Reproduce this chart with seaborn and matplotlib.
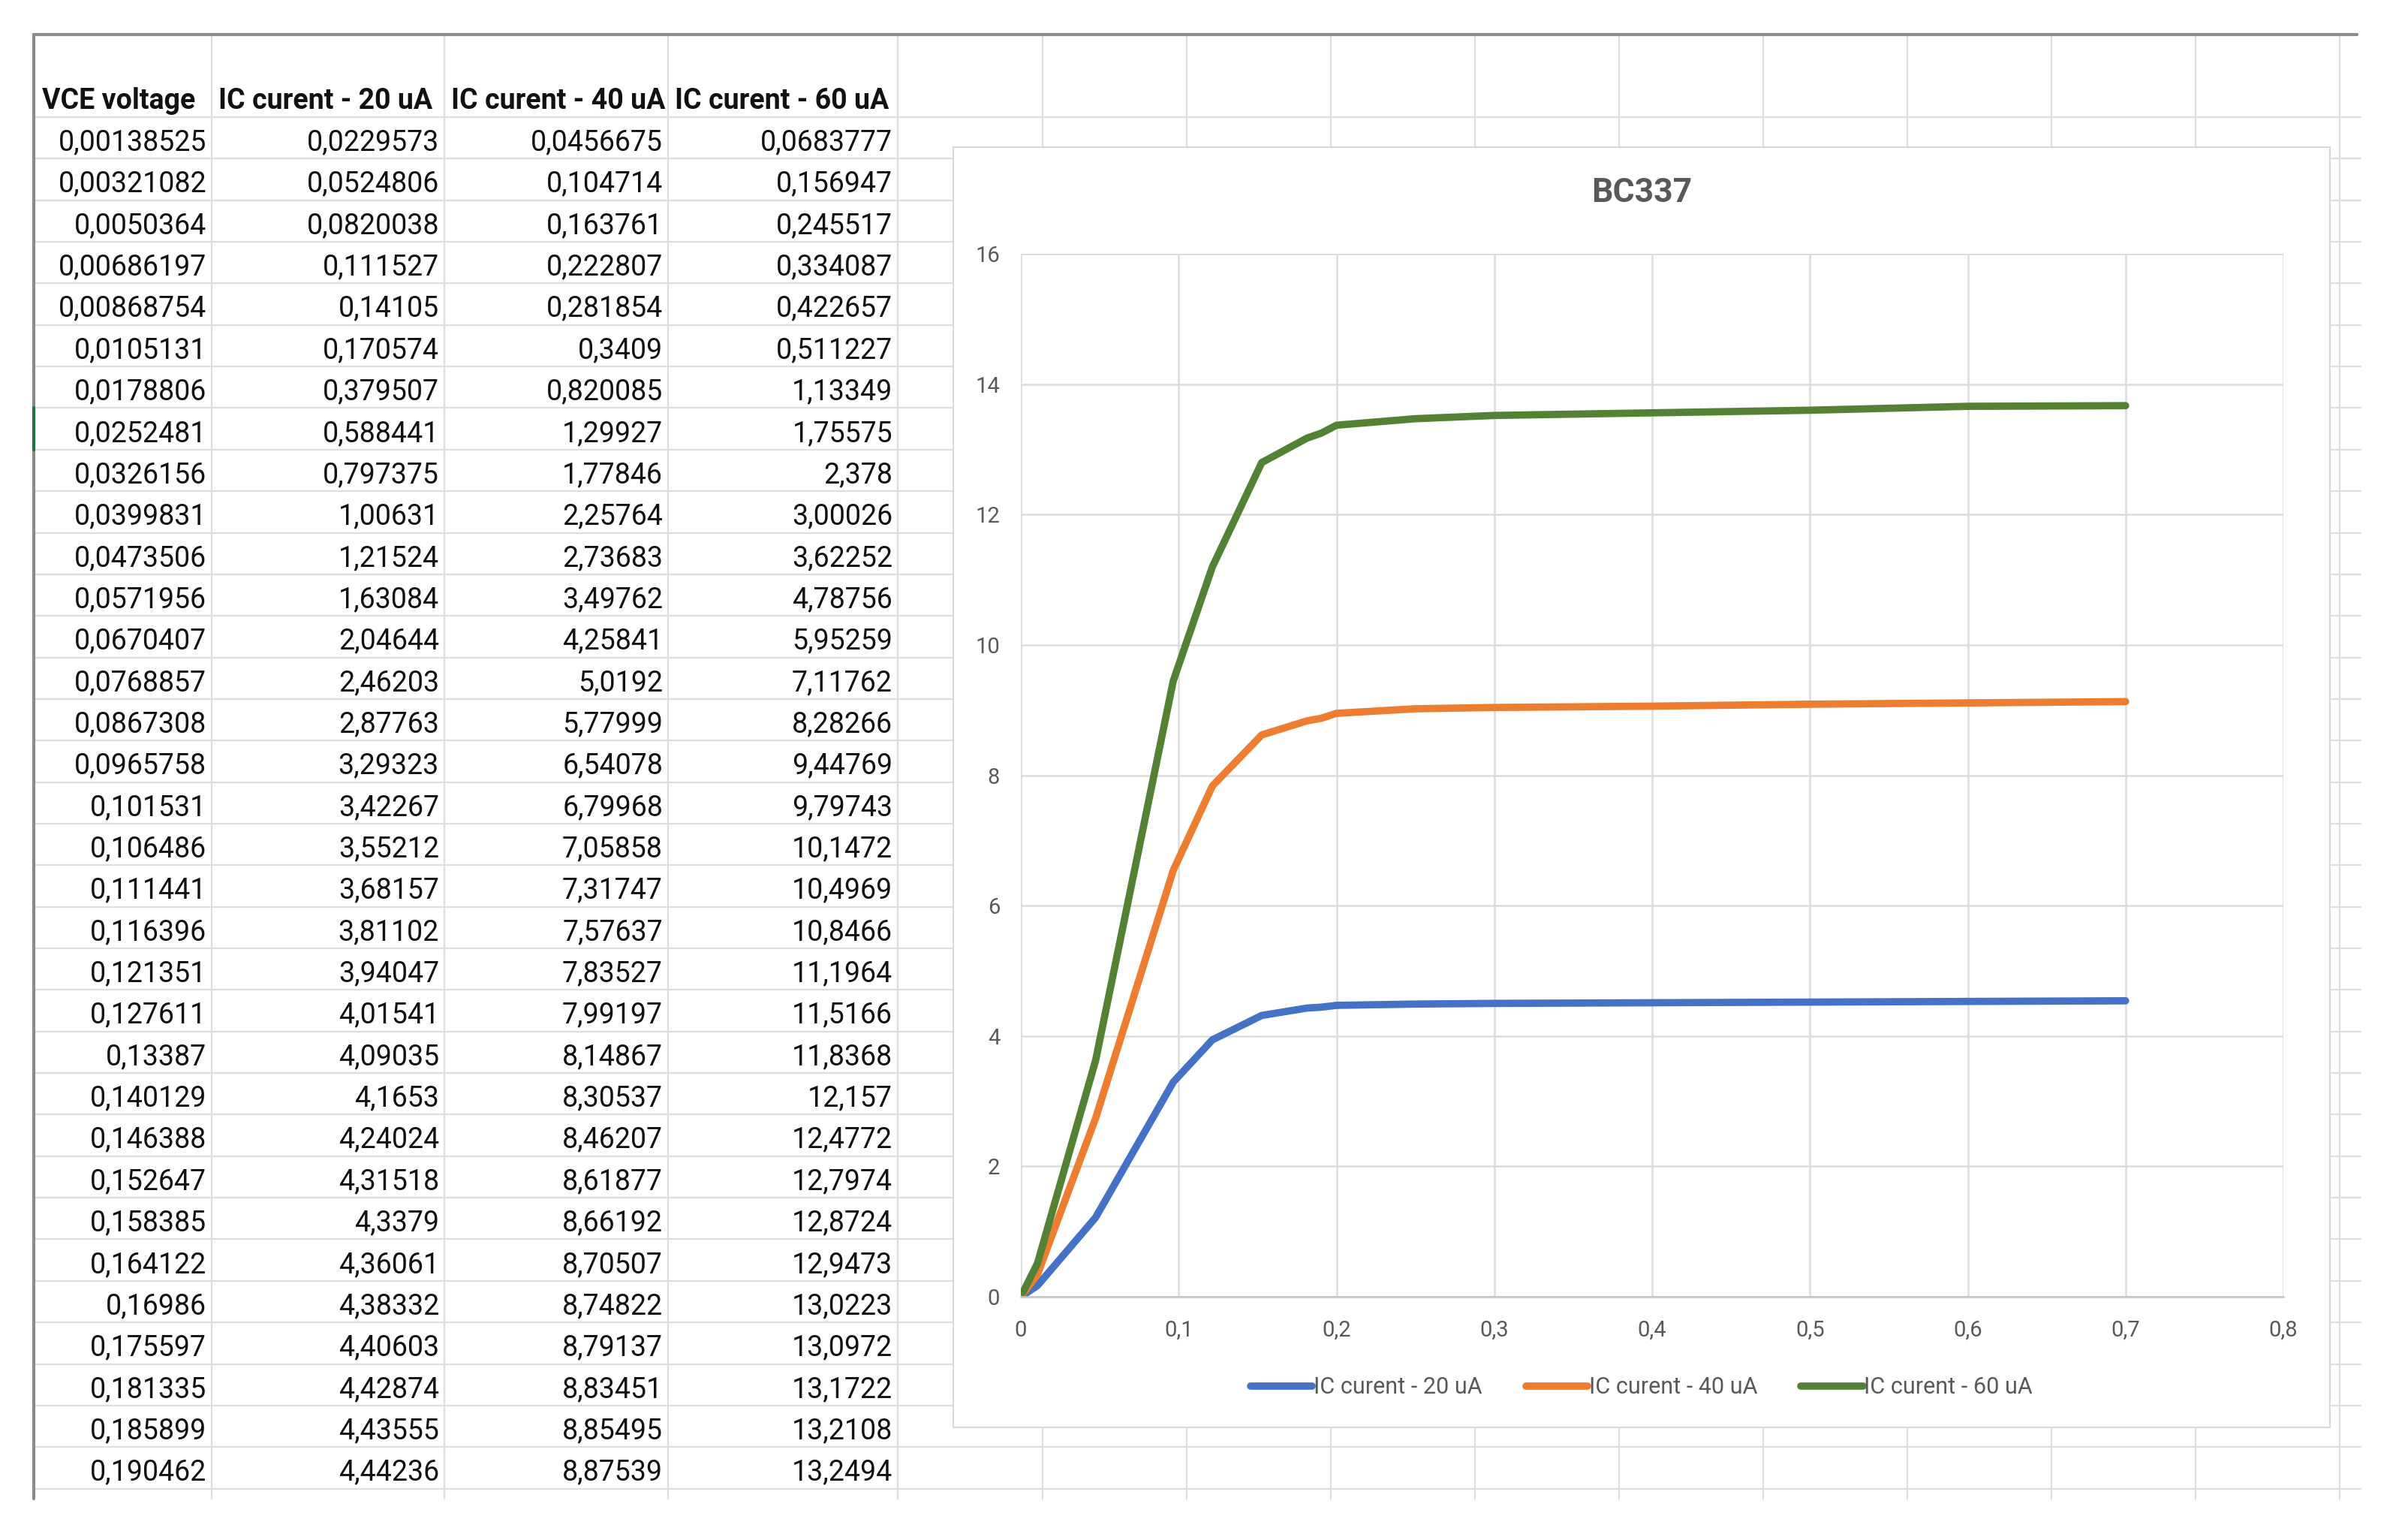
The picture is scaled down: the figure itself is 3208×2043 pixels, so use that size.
import matplotlib
matplotlib.use("Agg")
import matplotlib.pyplot as plt
from matplotlib.patches import Rectangle
from matplotlib.ticker import FuncFormatter, MultipleLocator
import pandas as pd
import seaborn as sns

# table as shown in the sheet (Excel text, comma decimals)
vce_text = ["0,00138525", "0,00321082", "0,0050364", "0,00686197", "0,00868754", "0,0105131",
            "0,0178806", "0,0252481", "0,0326156", "0,0399831", "0,0473506", "0,0571956",
            "0,0670407", "0,0768857", "0,0867308", "0,0965758", "0,101531", "0,106486",
            "0,111441", "0,116396", "0,121351", "0,127611", "0,13387", "0,140129",
            "0,146388", "0,152647", "0,158385", "0,164122", "0,16986", "0,175597",
            "0,181335", "0,185899", "0,190462"]
ic20_text = ["0,0229573", "0,0524806", "0,0820038", "0,111527", "0,14105", "0,170574",
             "0,379507", "0,588441", "0,797375", "1,00631", "1,21524", "1,63084",
             "2,04644", "2,46203", "2,87763", "3,29323", "3,42267", "3,55212",
             "3,68157", "3,81102", "3,94047", "4,01541", "4,09035", "4,1653",
             "4,24024", "4,31518", "4,3379", "4,36061", "4,38332", "4,40603",
             "4,42874", "4,43555", "4,44236"]
ic40_text = ["0,0456675", "0,104714", "0,163761", "0,222807", "0,281854", "0,3409",
             "0,820085", "1,29927", "1,77846", "2,25764", "2,73683", "3,49762",
             "4,25841", "5,0192", "5,77999", "6,54078", "6,79968", "7,05858",
             "7,31747", "7,57637", "7,83527", "7,99197", "8,14867", "8,30537",
             "8,46207", "8,61877", "8,66192", "8,70507", "8,74822", "8,79137",
             "8,83451", "8,85495", "8,87539"]
ic60_text = ["0,0683777", "0,156947", "0,245517", "0,334087", "0,422657", "0,511227",
             "1,13349", "1,75575", "2,378", "3,00026", "3,62252", "4,78756",
             "5,95259", "7,11762", "8,28266", "9,44769", "9,79743", "10,1472",
             "10,4969", "10,8466", "11,1964", "11,5166", "11,8368", "12,157",
             "12,4772", "12,7974", "12,8724", "12,9473", "13,0223", "13,0972",
             "13,1722", "13,2108", "13,2494"]
headers = ["VCE voltage", "IC curent - 20 uA", "IC curent - 40 uA", "IC curent - 60 uA"]

# rows further down the sheet (not visible)
vce_more = [0.2, 0.25, 0.3, 0.4, 0.5, 0.6, 0.7]
ic20_more = [4.47, 4.49, 4.50, 4.51, 4.52, 4.53, 4.54]
ic40_more = [8.95, 9.02, 9.04, 9.06, 9.09, 9.11, 9.13]
ic60_more = [13.37, 13.47, 13.52, 13.56, 13.60, 13.66, 13.67]

series_colors = ["#4472C4", "#ED7D31", "#548235"]


def num(s):
    return float(s.replace(',', '.'))


vce = [num(s) for s in vce_text] + vce_more
frames = []
for name, txt, more in zip(headers[1:], [ic20_text, ic40_text, ic60_text],
                           [ic20_more, ic40_more, ic60_more]):
    frames.append(pd.DataFrame({'vce': vce, 'ic': [num(s) for s in txt] + more, 'series': name}))
df = pd.concat(frames, ignore_index=True)

sns.set_style("white")
plt.rcParams['font.family'] = ['Roboto', 'DejaVu Sans']

W, H = 3208, 2043
fig = plt.figure(figsize=(W / 100, H / 100), dpi=100)

# spreadsheet background
bg = fig.add_axes([0, 0, 1, 1])
bg.set_xlim(0, W)
bg.set_ylim(H, 0)
bg.axis('off')

grid_c = '#dedede'
row_top = 156
row_h = 55.35
sheet_left, sheet_right, sheet_top, sheet_bottom = 45, 3145, 46, 1996
col_edges = [45, 282, 592, 890, 1196] + [1389 + 192 * k for k in range(10)]

for k in range(len(vce_text) + 1):
    y = row_top + k * row_h
    bg.plot([sheet_left, sheet_right], [y, y], color=grid_c, lw=1.6, zorder=1)
for x in col_edges[1:]:
    bg.plot([x, x], [sheet_top, sheet_bottom], color=grid_c, lw=1.6, zorder=1)
bg.plot([sheet_left, 3140], [sheet_top, sheet_top], color='#8a8a8a', lw=3, zorder=2)
bg.plot([sheet_left, sheet_left], [sheet_top, sheet_bottom], color='#8a8a8a', lw=3, zorder=2)
bg.plot([sheet_left, sheet_left], [row_top + 7 * row_h, row_top + 8 * row_h],
        color='#217346', lw=3, zorder=3)

# table text
for j, h in enumerate(headers):
    x0 = col_edges[j] + (11 if j == 0 else 9)
    bg.text(x0, row_top - 11, h, ha='left', va='baseline', fontsize=27,
            fontweight='bold', color='#111111', zorder=5)
cols = [vce_text, ic20_text, ic40_text, ic60_text]
for j, col in enumerate(cols):
    xr = col_edges[j + 1] - 7
    for i, s in enumerate(col):
        bg.text(xr, row_top + (i + 1) * row_h - 11, s, ha='right', va='baseline',
                fontsize=27, color='#111111', zorder=5)

# chart box
bg.add_patch(Rectangle((1270, 196), 1834, 1705, facecolor='white',
                       edgecolor='#d9d9d9', lw=1.5, zorder=4))

# chart
ax = fig.add_axes([1360 / W, 1 - 1727 / H, (3042 - 1360) / W, (1727 - 338) / H])
sns.lineplot(data=df, x='vce', y='ic', hue='series', palette=series_colors,
             estimator=None, sort=False, linewidth=7, ax=ax)
for ln in ax.lines:
    ln.set_solid_capstyle('round')
    ln.set_solid_joinstyle('round')

ax.set_xlim(0, 0.8)
ax.set_ylim(0, 16)
ax.xaxis.set_major_locator(MultipleLocator(0.1))
ax.yaxis.set_major_locator(MultipleLocator(2))
ax.xaxis.set_major_formatter(FuncFormatter(lambda v, p: "0" if abs(v) < 1e-9 else f"{v:.1f}".replace('.', ',')))
ax.yaxis.set_major_formatter(FuncFormatter(lambda v, p: f"{v:g}"))
ax.tick_params(length=0, labelsize=21, labelcolor='#595959')
ax.tick_params(axis='x', pad=22)
ax.tick_params(axis='y', pad=20)
ax.grid(True, color='#dcdcdc', lw=1.8)
ax.set_axisbelow(True)
for side in ['top', 'right', 'left']:
    ax.spines[side].set_visible(False)
ax.spines['bottom'].set_color('#c4c4c4')
ax.spines['bottom'].set_linewidth(1.8)
ax.set_xlabel('')
ax.set_ylabel('')

handles, labels = ax.get_legend_handles_labels()
ax.get_legend().remove()
fig.legend(handles, labels, loc='center', bbox_to_anchor=(2187 / W, 1 - 1848 / H),
           ncol=3, frameon=False, fontsize=22, labelcolor='#595959',
           handlelength=2.7, handletextpad=0.05, columnspacing=1.9)

fig.text(2187 / W, 1 - 257 / H, 'BC337', ha='center', va='center',
         fontsize=32, fontweight='bold', color='#595959')

fig.savefig('out.png', dpi=100)
